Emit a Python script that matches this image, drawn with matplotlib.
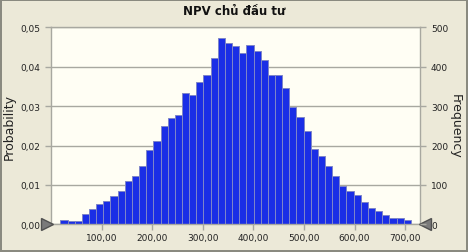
#!/usr/bin/env python3
"""Histogram of simulated NPV for the investor (Crystal Ball style)."""

import numpy as np
import matplotlib
matplotlib.use("Agg")
import matplotlib.pyplot as plt
from matplotlib.ticker import FuncFormatter

N_TRIALS = 10000
BIN_START = 18.5
BIN_WIDTH = 14.14

# frequency per bin
COUNTS = [
    11, 8, 8, 25, 40, 51, 58, 72, 85, 110,
    123, 148, 189, 211, 249, 269, 277, 334, 329, 361,
    379, 421, 474, 460, 452, 436, 454, 440, 417, 379,
    379, 345, 297, 273, 236, 191, 173, 147, 123, 98,
    84, 74, 56, 42, 33, 24, 15, 15, 11,
]
X_TICKS = [100, 200, 300, 400, 500, 600, 700]
PROB_TICKS = [0.0, 0.01, 0.02, 0.03, 0.04, 0.05]
FREQ_TICKS = [0, 100, 200, 300, 400, 500]

TITLE = "NPV chủ đầu tư"

FIG_BG = "#ECE9D8"
PLOT_BG = "#FFFEF4"
BAR_COLOR = "#1A2EE6"
BAR_EDGE = "#7F86C8"
GRID_COLOR = "#A8A8A0"
TEXT_COLOR = "#222222"

plt.rcParams["font.family"] = ["DejaVu Sans"]


def comma_fmt(digits):
    return FuncFormatter(lambda v, pos: f"{v:.{digits}f}".replace(".", ","))


def main():
    counts = np.array(COUNTS, dtype=float)
    lefts = BIN_START + BIN_WIDTH * np.arange(len(counts))
    prob = counts / N_TRIALS

    fig = plt.figure(figsize=(4.68, 2.53), dpi=100, facecolor=FIG_BG,
                     edgecolor="#8A8A80", linewidth=1.5)
    ax = fig.add_axes([0.109, 0.1095, 0.788, 0.7785], facecolor=PLOT_BG)

    ax.bar(lefts, prob, width=BIN_WIDTH, align="edge", color=BAR_COLOR,
           edgecolor=BAR_EDGE, linewidth=0.7, zorder=2)

    ax.set_xlim(0, 729)
    ax.set_ylim(0, 0.05)
    ax.set_xticks(X_TICKS)
    ax.set_yticks(PROB_TICKS)
    ax.xaxis.set_major_formatter(comma_fmt(2))
    ax.yaxis.set_major_formatter(comma_fmt(2))
    ax.grid(True, axis="y", color=GRID_COLOR, linewidth=1.0, zorder=0)
    ax.set_axisbelow(True)

    for side in ["left", "right", "top", "bottom"]:
        ax.spines[side].set_color(GRID_COLOR)
        ax.spines[side].set_linewidth(1.0)

    ax.tick_params(axis="x", colors=GRID_COLOR, labelcolor=TEXT_COLOR,
                   labelsize=6.5, length=4, width=1.0, pad=2)
    ax.tick_params(axis="y", colors=GRID_COLOR, labelcolor=TEXT_COLOR,
                   labelsize=6.5, length=4, width=1.0, pad=4)

    ax2 = ax.twinx()
    ax2.set_ylim(0, 500)
    ax2.set_yticks(FREQ_TICKS)
    ax2.tick_params(axis="y", colors=GRID_COLOR, labelcolor=TEXT_COLOR,
                    labelsize=6.5, length=4, width=1.0, pad=4)
    for side in ["left", "right", "top", "bottom"]:
        ax2.spines[side].set_visible(False)

    ax.set_ylabel("Probability", fontsize=9, color=TEXT_COLOR, labelpad=3)
    ax2.set_ylabel("Frequency", fontsize=9, color=TEXT_COLOR, rotation=-90,
                   labelpad=10)

    fig.text(0.5, 0.955, TITLE, ha="center", va="center", fontsize=8.5,
             fontweight="bold", color="#111111")

    # slider markers at the axis ends
    ax.plot([-0.011], [0], marker=">", markersize=8, color="#7A7A7A",
            transform=ax.transAxes, clip_on=False, zorder=5,
            markeredgecolor="#505050")
    ax.plot([1.013], [0], marker="<", markersize=8, color="#7A7A7A",
            transform=ax.transAxes, clip_on=False, zorder=5,
            markeredgecolor="#505050")

    fig.savefig("out.png", dpi=100, facecolor=FIG_BG, edgecolor="#8A8A80")
    plt.close(fig)


if __name__ == "__main__":
    main()
